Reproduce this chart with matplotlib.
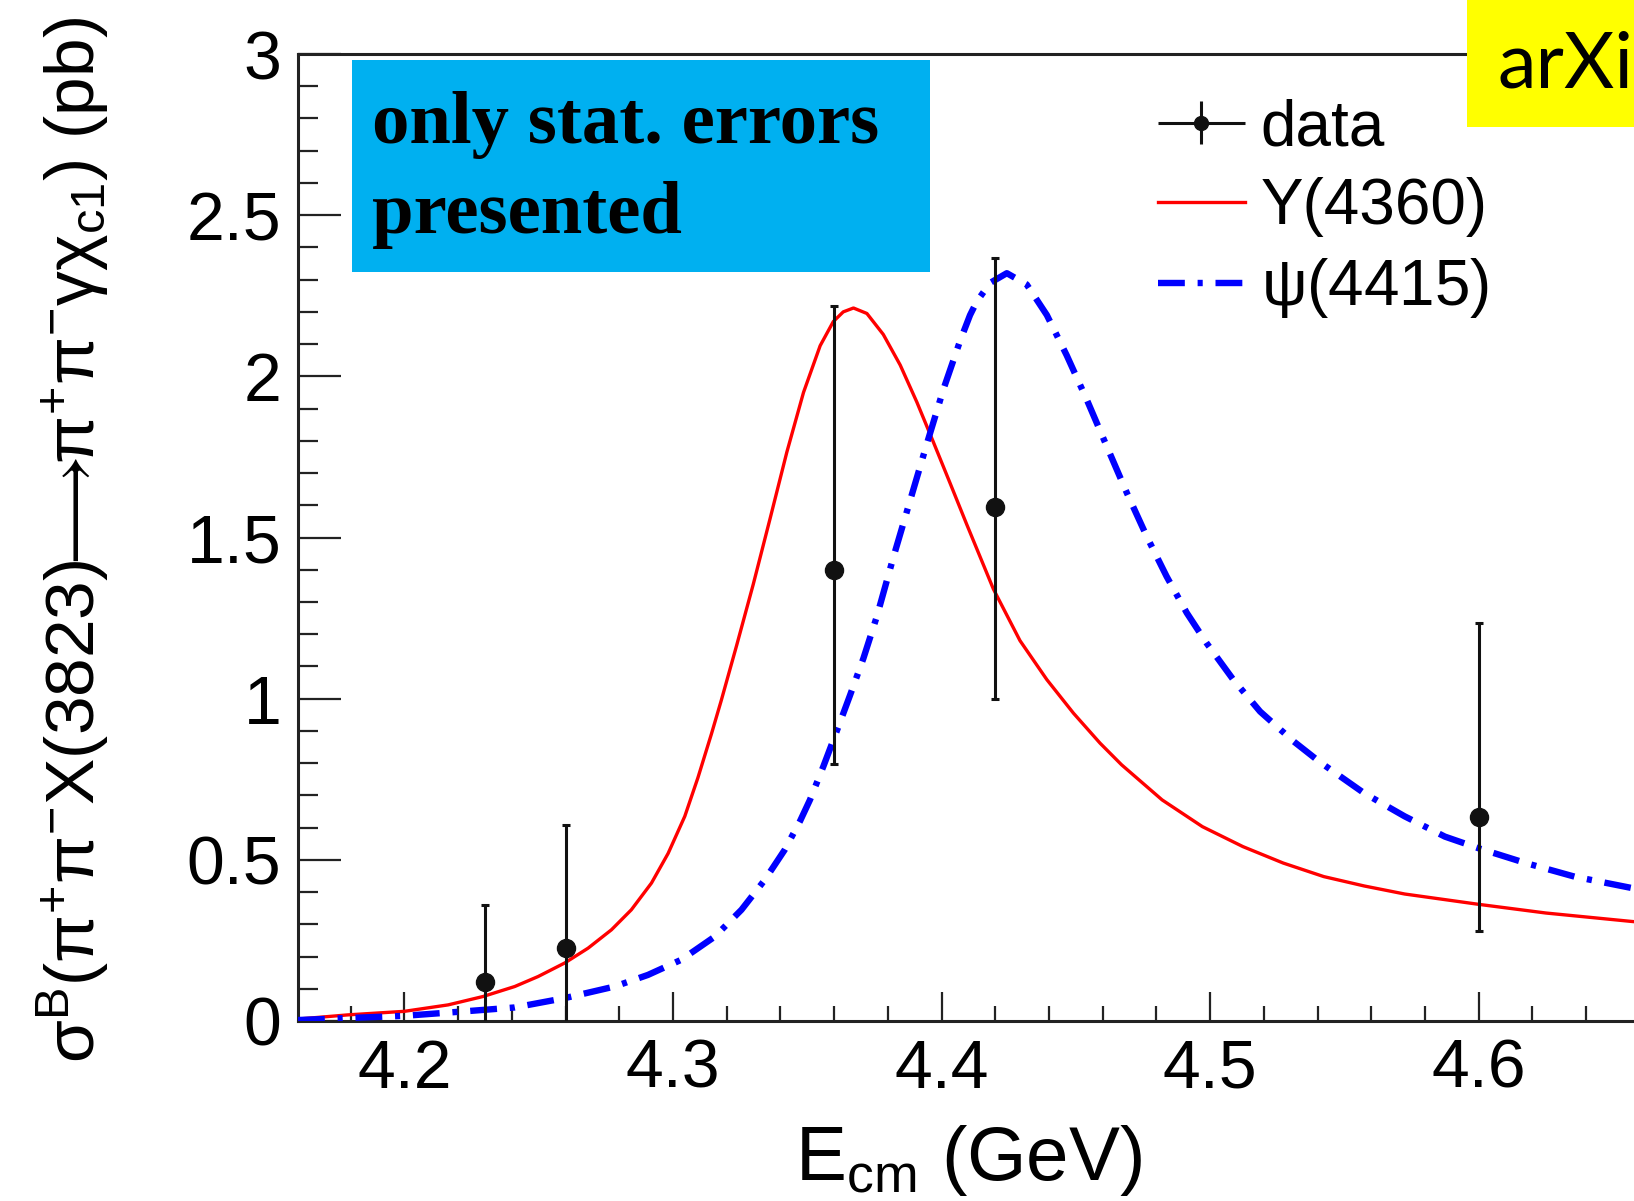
import numpy as np
import matplotlib
matplotlib.use("Agg")
import matplotlib.pyplot as plt
from matplotlib.patches import Rectangle
from matplotlib.legend_handler import HandlerErrorbar
from matplotlib.ticker import MultipleLocator, FixedLocator, FormatStrFormatter, FuncFormatter

plt.rcParams['font.family'] = ['Liberation Sans', 'DejaVu Sans']
plt.rcParams['mathtext.fontset'] = 'custom'
plt.rcParams['mathtext.rm'] = 'Liberation Sans'
plt.rcParams['mathtext.it'] = 'Liberation Sans'
plt.rcParams['mathtext.default'] = 'regular'

# measured cross sections (stat. errors only)
e_cm = [4.23, 4.26, 4.36, 4.42, 4.60]
sigma = [0.12, 0.226, 1.40, 1.596, 0.634]
err_up = [0.241, 0.383, 0.819, 0.771, 0.602]
err_dn = [0.241, 0.383, 0.602, 0.597, 0.356]

# Y(4360) line shape
y4360_e = [4.1604, 4.1790, 4.2000, 4.2163, 4.2293, 4.2411, 4.2498, 4.2597,
           4.2684, 4.2771, 4.2845, 4.2920, 4.2982, 4.3044, 4.3093, 4.3143,
           4.3180, 4.3237, 4.3299, 4.3362, 4.3424, 4.3486, 4.3548, 4.3597,
           4.3634, 4.3672, 4.3722, 4.3783, 4.3846, 4.3908, 4.3970, 4.4032,
           4.4094, 4.4193, 4.4292, 4.4392, 4.4491, 4.4590, 4.4670, 4.4821,
           4.4971, 4.5122, 4.5272, 4.5423, 4.5573, 4.5724, 4.5999, 4.6250,
           4.6567, 4.6800]
y4360_xs = [0.006, 0.019, 0.030, 0.050, 0.076, 0.107, 0.138, 0.180,
            0.226, 0.283, 0.345, 0.428, 0.520, 0.635, 0.755, 0.890,
            0.995, 1.165, 1.355, 1.560, 1.765, 1.950, 2.095, 2.170,
            2.200, 2.212, 2.195, 2.130, 2.035, 1.920, 1.795, 1.668,
            1.540, 1.340, 1.180, 1.059, 0.955, 0.862, 0.795, 0.686,
            0.603, 0.541, 0.490, 0.448, 0.419, 0.394, 0.362, 0.335,
            0.309, 0.292]

# psi(4415) line shape
psi_e = [4.1604, 4.2000, 4.2225, 4.2411, 4.2597, 4.2783, 4.2907, 4.3031,
         4.3156, 4.3255, 4.3342, 4.3416, 4.3473, 4.3510, 4.3560, 4.3610,
         4.3659, 4.3709, 4.3759, 4.3821, 4.3883, 4.3945, 4.4007, 4.4069,
         4.4106, 4.4131, 4.4181, 4.4243, 4.4317, 4.4392, 4.4466, 4.4541,
         4.4615, 4.4690, 4.4764, 4.4838, 4.4913, 4.4987, 4.5086, 4.5186,
         4.5310, 4.5409, 4.5573, 4.5724, 4.5874, 4.5999, 4.6175, 4.6356,
         4.6567, 4.6800]
psi_xs = [0.003, 0.016, 0.030, 0.042, 0.071, 0.107, 0.143, 0.190,
          0.262, 0.345, 0.438, 0.531, 0.620, 0.686, 0.790, 0.900,
          1.010, 1.125, 1.255, 1.440, 1.615, 1.790, 1.960, 2.110,
          2.190, 2.232, 2.290, 2.320, 2.285, 2.190, 2.065, 1.927,
          1.783, 1.638, 1.503, 1.379, 1.266, 1.172, 1.059, 0.960,
          0.868, 0.803, 0.707, 0.635, 0.572, 0.536, 0.490, 0.448,
          0.413, 0.385]

W, H = 1634, 1201
fig = plt.figure(figsize=(W / 100, H / 100), dpi=100)
fig.patch.set_facecolor('white')

x0, x1 = 4.1604, 4.70
px_per_gev = 2686.0
ax = fig.add_axes([298 / W, 1 - 1021 / H, (x1 - x0) * px_per_gev / W, (1021 - 54) / H])

ax.plot(y4360_e, y4360_xs, color='#ff0000', lw=2.4, label='Y(4360)',
        solid_joinstyle='round', zorder=3)
ax.plot(psi_e, psi_xs, color='#0000ff', lw=4.6, dashes=(4.2, 2.0, 0.8, 2.0),
        label=r'$\psi$(4415)', zorder=3)
ax.errorbar(e_cm, sigma, yerr=[err_dn, err_up], fmt='o', color='#111111',
            ms=13, elinewidth=2.2, capsize=3, capthick=2.2, zorder=4)

# legend entry for the data: marker with both bars, like ROOT "lep"
data_proxy = ax.errorbar([np.nan], [np.nan], xerr=[1.0], yerr=[1.0], fmt='o',
                         color='#111111', ms=10, elinewidth=2.2, capsize=0)

ax.set_xlim(x0, x1)
ax.set_ylim(0, 3)
ax.xaxis.set_major_locator(FixedLocator([4.2, 4.3, 4.4, 4.5, 4.6]))
ax.xaxis.set_minor_locator(MultipleLocator(0.02))
ax.yaxis.set_major_locator(MultipleLocator(0.5))
ax.yaxis.set_minor_locator(MultipleLocator(0.1))
ax.xaxis.set_major_formatter(FormatStrFormatter('%.1f'))
ax.yaxis.set_major_formatter(FuncFormatter(lambda v, p: '%g' % v))

ax.tick_params(axis='both', which='both', direction='in', colors='#222222',
               width=1.6, labelsize=49, labelcolor='black')
ax.tick_params(axis='x', which='major', length=21, pad=12)
ax.tick_params(axis='x', which='minor', length=10.5)
ax.tick_params(axis='y', which='major', length=31, pad=12)
ax.tick_params(axis='y', which='minor', length=14.5)

for side in ['left', 'bottom', 'top']:
    ax.spines[side].set_linewidth(2.2)
    ax.spines[side].set_color('#222222')
ax.spines['right'].set_visible(False)

fig.text(73 / W, 1 - 540 / H,
         r'$\sigma^{B}(\pi^{+}\pi^{-}X(3823)\!\!\longrightarrow\!\!\pi^{+}\pi^{-}\gamma\chi_{c1})$ (pb)',
         rotation=90, ha='center', va='center', fontsize=50)
fig.text(969 / W, 1 - 1160 / H, r'$E_{cm}$ (GeV)', ha='center', va='center', fontsize=55)

handles = [data_proxy, ax.lines[0], ax.lines[1]]
labels = ['data', 'Y(4360)', r'$\psi$(4415)']
ax.legend(handles, labels, loc='upper left', bbox_to_anchor=(1158 / W, 1 - 98 / H),
          bbox_transform=fig.transFigure, frameon=False, fontsize=46,
          borderpad=0, borderaxespad=0, labelspacing=0.30, handlelength=1.36,
          handletextpad=0.25,
          handler_map={type(data_proxy): HandlerErrorbar(xerr_size=0.68, yerr_size=0.34)})

# note box
fig.add_artist(Rectangle((352 / W, 1 - 272 / H), (930 - 352) / W, (272 - 60) / H,
                         transform=fig.transFigure, facecolor='#00b0f0',
                         edgecolor='none', zorder=5))
fig.text(372 / W, 1 - 143 / H, 'only stat. errors', family='Liberation Serif',
         fontweight='bold', fontsize=53.8, va='baseline', zorder=6)
fig.text(372 / W, 1 - 233 / H, 'presented', family='Liberation Serif',
         fontweight='bold', fontsize=53.8, va='baseline', zorder=6)

# arXiv tag in the corner
fig.add_artist(Rectangle((1467 / W, 1 - 127 / H), (W - 1467) / W + 0.01, 127 / H + 0.01,
                         transform=fig.transFigure, facecolor='#ffff00',
                         edgecolor='none', zorder=5))
fig.text(1497 / W, 1 - 88 / H, 'arXi', family='Lato', fontsize=56,
         va='baseline', zorder=6)

fig.savefig('out.png', dpi=100)
